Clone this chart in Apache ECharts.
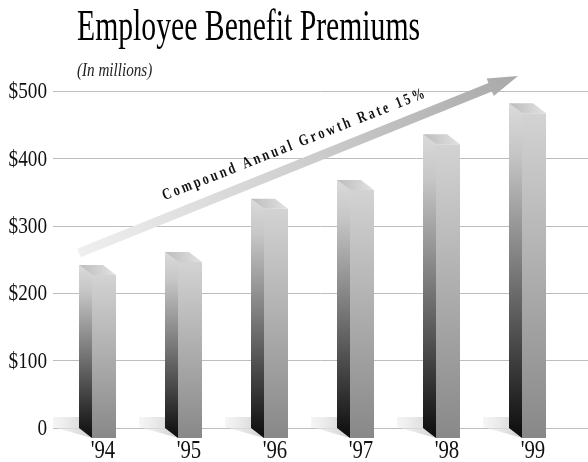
<!DOCTYPE html>
<html>
<head>
<meta charset="utf-8">
<script src="https://cdn.jsdelivr.net/npm/echarts@6/dist/echarts.min.js"></script>
<style>
  html, body { margin: 0; padding: 0; background: #ffffff; }
  #chart { width: 588px; height: 462px; }
</style>
</head>
<body>
<div id="chart"></div>
<script>
// Employee benefit premiums by fiscal year, in millions of dollars
const years = ["'94", "'95", "'96", "'97", "'98", "'99"];
const premiums = [242, 261, 340, 368, 436, 482];
const yTicks = [0, 100, 200, 300, 400, 500];
const yTickLabels = ['0', '$100', '$200', '$300', '$400', '$500'];
const titleText = 'Employee Benefit Premiums';
const subtitleText = '(In millions)';
const growthText = 'Compound Annual Growth Rate 15%';

const SERIF = '"Liberation Serif", "Times New Roman", serif';
const FRONT_W = 24;   // width of a column's front face
const DEPTH_X = 13;   // horizontal depth of the 3D box
const DEPTH_Y = 10;   // vertical depth of the 3D box

const chart = echarts.init(document.getElementById('chart'), null, { renderer: 'canvas' });

function lin(x0, y0, x1, y1, stops) {
  return new echarts.graphic.LinearGradient(x0, y0, x1, y1,
    stops.map(s => ({ offset: s[0], color: s[1] })));
}

// Draws one shaded 3D column plus its cast shadow and year label
function renderBox(params, api) {
  const i = api.value(0);
  const v = api.value(1);
  const top = api.coord([i, v]);
  const base = api.coord([i, 0]);
  const xf = top[0] - FRONT_W / 2;
  const xb = xf - DEPTH_X;
  const yT = top[1];
  const y0 = base[1];
  return {
    type: 'group',
    children: [
      {
        type: 'polygon',
        shape: { points: [[xb - 26, y0 - 11], [xb, y0 - 11], [xf, y0 + DEPTH_Y], [xb - 26, y0 - 1]] },
        style: { fill: lin(0, 0, 1, 0, [[0, 'rgba(235,235,235,0.5)'], [0.6, 'rgba(220,220,220,0.85)'], [1, 'rgba(205,205,205,0.95)']]) }
      },
      {
        type: 'polygon',
        shape: { points: [[xb, yT], [xf, yT + DEPTH_Y], [xf, y0 + DEPTH_Y], [xb, y0]] },
        style: { fill: lin(0, 0, 0, 1, [[0, '#dadada'], [0.15, '#c6c6c6'], [1, '#0c0c0c']]) }
      },
      {
        type: 'rect',
        shape: { x: xf, y: yT + DEPTH_Y, width: FRONT_W, height: y0 - yT },
        style: { fill: lin(0, 0, 0, 1, [[0, '#d3d3d3'], [1, '#888888']]) }
      },
      {
        type: 'polygon',
        shape: { points: [[xb, yT], [xb + FRONT_W, yT], [xf + FRONT_W, yT + DEPTH_Y], [xf, yT + DEPTH_Y]] },
        style: { fill: lin(0, 0, 1, 0, [[0, '#bcbcbc'], [1, '#e2e2e2']]) }
      },
      {
        type: 'text',
        x: top[0] - 1,
        y: y0 + 23,
        scaleX: 0.8,
        style: {
          text: years[i], x: 0, y: 0,
          font: '26px ' + SERIF, fill: '#111111',
          align: 'center', verticalAlign: 'middle'
        }
      }
    ]
  };
}

chart.setOption({
  animation: false,
  backgroundColor: '#ffffff',
  grid: [
    { left: 53, right: 0, top: 91, bottom: 34 },
    { left: 61, right: 11, top: 91, bottom: 34 }
  ],
  xAxis: [
    { type: 'category', gridIndex: 0, data: years, show: false },
    { type: 'category', gridIndex: 1, data: years, show: false }
  ],
  yAxis: [
    {
      type: 'value', gridIndex: 0, min: 0, max: 500, interval: 100,
      axisLine: { show: false }, axisTick: { show: false }, axisLabel: { show: false },
      splitLine: { show: true, lineStyle: { color: '#bdbdbd', width: 1 } }
    },
    {
      type: 'value', gridIndex: 1, min: 0, max: 500, interval: 100, show: false,
      splitLine: { show: false }
    }
  ],
  series: [{
    type: 'custom',
    xAxisIndex: 1,
    yAxisIndex: 1,
    renderItem: renderBox,
    data: premiums.map((v, i) => [i, v]),
    clip: false,
    z: 5
  }]
});

// Text, tick labels and the growth arrow, laid out as graphic elements
const graphics = [];

graphics.push({
  type: 'text', x: 77, y: 28.5, scaleX: 0.66,
  style: { text: titleText, x: 0, y: 0, font: '45px ' + SERIF, fill: '#000000', align: 'left', verticalAlign: 'middle' }
});
graphics.push({
  type: 'text', x: 77, y: 71.5, scaleX: 0.84,
  style: { text: subtitleText, x: 0, y: 0, font: 'italic 18px ' + SERIF, fill: '#222222', align: 'left', verticalAlign: 'middle' }
});

yTicks.forEach((t, k) => {
  const py = chart.convertToPixel({ yAxisIndex: 0 }, t);
  graphics.push({
    type: 'text', x: 47, y: py + 1, scaleX: 0.8,
    style: { text: yTickLabels[k], x: 0, y: 0, font: '24px ' + SERIF, fill: '#111111', align: 'right', verticalAlign: 'middle' }
  });
});

// Growth arrow
const tail = [79, 253];
const tip = [518, 76];
const dx = tip[0] - tail[0], dy = tip[1] - tail[1];
const len = Math.sqrt(dx * dx + dy * dy);
const ux = dx / len, uy = dy / len;
const nx = -uy, ny = ux;
const halfShaft = 4.6, headLen = 30, halfHead = 9.5;
const hb = [tip[0] - ux * headLen, tip[1] - uy * headLen];
graphics.push({
  type: 'polygon', z: 10,
  shape: {
    points: [
      [tail[0] + nx * halfShaft, tail[1] + ny * halfShaft],
      [hb[0] + nx * halfShaft, hb[1] + ny * halfShaft],
      [hb[0] + nx * halfHead, hb[1] + ny * halfHead],
      tip,
      [hb[0] - nx * halfHead, hb[1] - ny * halfHead],
      [hb[0] - nx * halfShaft, hb[1] - ny * halfShaft],
      [tail[0] - nx * halfShaft, tail[1] - ny * halfShaft]
    ]
  },
  style: {
    fill: new echarts.graphic.LinearGradient(tail[0], tail[1], tip[0], tip[1],
      [{ offset: 0, color: '#efefef' }, { offset: 0.5, color: '#cfcfcf' }, { offset: 1, color: '#a9a9a9' }], true)
  }
});

// Letter-spaced caption running along the arrow
const capFont = 'bold 16px ' + SERIF;
const capScale = 0.76;
const ctx = document.createElement('canvas').getContext('2d');
ctx.font = capFont;
const widths = Array.from(growthText).map(ch => ctx.measureText(ch).width * capScale);
const capStart = [165, 201.5];
const capEnd = [426, 98.5];
const capLen = Math.hypot(capEnd[0] - capStart[0], capEnd[1] - capStart[1]);
const glyphTotal = widths.reduce((a, b) => a + b, 0);
const gap = (capLen - glyphTotal) / (widths.length - 1);
const capAngle = Math.atan2(-(capEnd[1] - capStart[1]), capEnd[0] - capStart[0]);
const letters = [];
let off = 0;
Array.from(growthText).forEach((ch, k) => {
  letters.push({
    type: 'text', x: off, y: -5.4, scaleX: capScale,
    style: { text: ch, x: 0, y: 0, font: capFont, fill: '#111111', align: 'left', verticalAlign: 'middle' }
  });
  off += widths[k] + gap;
});
graphics.push({
  type: 'group', x: capStart[0], y: capStart[1], rotation: capAngle, z: 11,
  children: letters
});

chart.setOption({ graphic: graphics });
</script>
</body>
</html>
